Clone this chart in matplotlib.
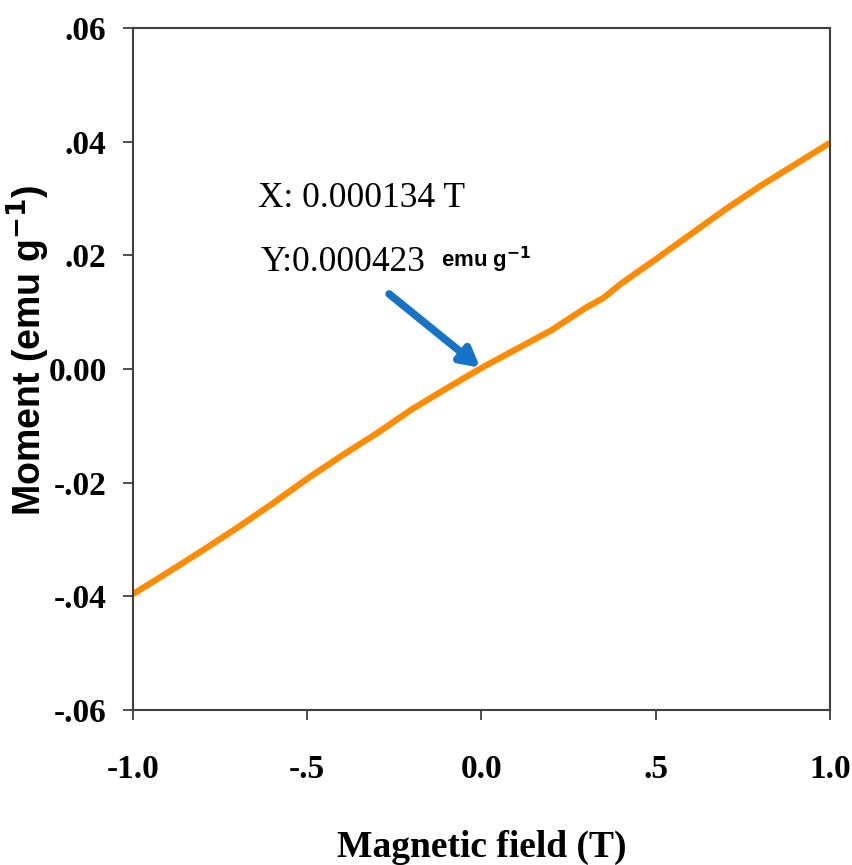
import matplotlib
matplotlib.use("Agg")
import matplotlib.pyplot as plt

# data
field = [-1.0, -0.9, -0.8, -0.7, -0.6, -0.5, -0.4, -0.3, -0.2, -0.1, 0.0,
         0.1, 0.2, 0.3, 0.35, 0.4, 0.5, 0.6, 0.7, 0.8, 0.9, 1.0]
moment = [-0.0396, -0.0358, -0.0319, -0.0279, -0.0237, -0.0193, -0.0152,
          -0.0113, -0.0071, -0.0034, 0.0002, 0.0035, 0.0068, 0.0108, 0.0125,
          0.0150, 0.0193, 0.0237, 0.0281, 0.0322, 0.0360, 0.0398]
xticks = [-1.0, -0.5, 0.0, 0.5, 1.0]
xticklabels = ["-1.0", "-.5", "0.0", ".5", "1.0"]
yticks = [-0.06, -0.04, -0.02, 0.0, 0.02, 0.04, 0.06]
yticklabels = ["-.06", "-.04", "-.02", "0.00", ".02", ".04", ".06"]
point_x, point_y = 0.000134, 0.000423

W, H = 853, 865
fig = plt.figure(figsize=(W / 100, H / 100), dpi=100)
ax = fig.add_axes([133 / W, 1 - 710 / H, (830 - 133) / W, (710 - 28) / H])

ax.plot(field, moment, color="#FF8C00", lw=4.5, solid_capstyle="butt")
ax.set_xlim(-1.0, 1.0)
ax.set_ylim(-0.06, 0.06)

serif = "Liberation Serif"
sans = "Liberation Sans"
ax.set_xticks(xticks)
ax.set_xticklabels(xticklabels, fontfamily=serif, fontweight="bold", fontsize=24)
ax.set_yticks(yticks)
ax.set_yticklabels(yticklabels, fontfamily=serif, fontweight="bold", fontsize=24)
ax.tick_params(axis="x", direction="out", length=7, width=1.3, color="#404040", pad=25)
ax.tick_params(axis="y", direction="out", length=7, width=1.3, color="#404040", pad=12)
for s in ax.spines.values():
    s.set_color("#404040")
    s.set_linewidth(1.5)

fig.text(482 / W, 1 - 847 / H, "Magnetic field (T)", fontfamily=serif,
         fontweight="bold", fontsize=27, ha="center", va="center")
fig.text(28 / W, 1 - 350 / H, r"Moment (emu g$^{\mathbf{-1}}$)", fontfamily=sans,
         fontweight="bold", fontsize=27, rotation=90, ha="center", va="center")

# annotation
ax.annotate("", xy=(point_x - 0.004, point_y - 0.0002), xytext=(-0.265, 0.0132),
            arrowprops=dict(arrowstyle="-|>,head_length=1.1,head_width=0.6",
                            color="#1673C8", lw=5.5, shrinkA=0, shrinkB=0))
ax.text(-0.64, 0.0285, "X: 0.000134 T", fontfamily=serif, fontsize=25.5,
        ha="left", va="baseline")
ax.text(-0.633, 0.0173, "Y:0.000423", fontfamily=serif, fontsize=25.5,
        ha="left", va="baseline")
ax.text(-0.115, 0.0180, r"emu g$^{\mathbf{-1}}$", fontfamily=sans, fontweight="bold",
        fontsize=16, ha="left", va="baseline")

fig.savefig("out.png", dpi=100)
